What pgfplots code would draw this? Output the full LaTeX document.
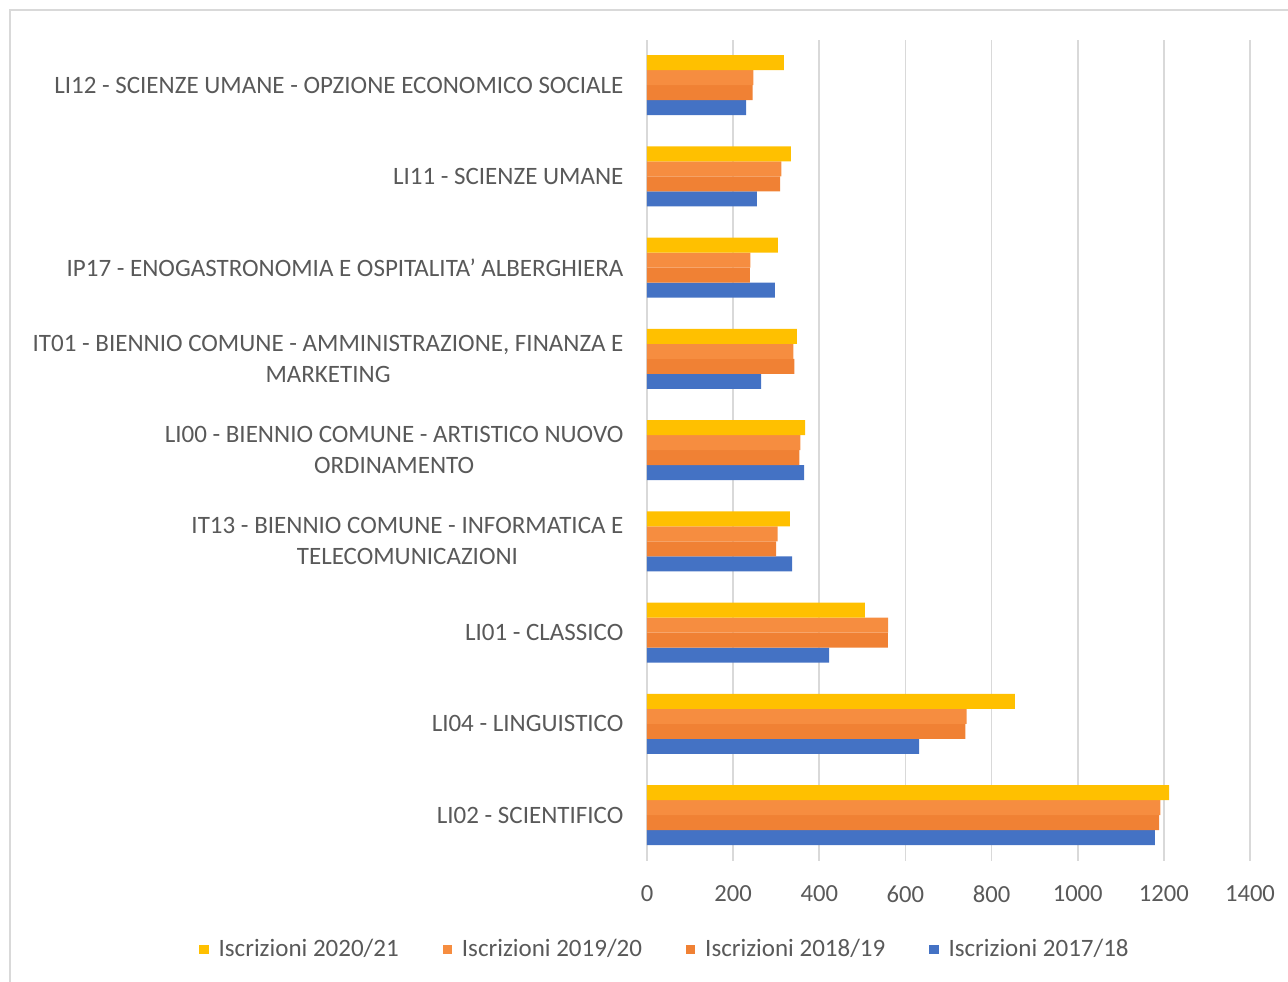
\documentclass[border=0pt]{standalone}
\usepackage{pgfplots}
\pgfplotsset{compat=1.18}
\usepackage{fontspec}
\setmainfont{Carlito}
\definecolor{cY}{HTML}{FFC000}
\definecolor{cO1}{HTML}{F68D40}
\definecolor{cO2}{HTML}{F08134}
\definecolor{cB}{HTML}{4472C4}
\definecolor{txt}{HTML}{595959}
\definecolor{grd}{HTML}{D9D9D9}
\begin{document}
\begin{tikzpicture}
\useasboundingbox (-323.5pt,-60.2pt) rectangle (320.5pt,430.3pt);
\draw[grd, line width=1.2pt] (-318.5pt,-80pt) -- (-318.5pt,425.3pt) -- (340pt,425.3pt);
\begin{axis}[
  at={(0pt,0pt)}, anchor=south west,
  scale only axis,
  width=301.5pt, height=410.5pt,
  xmin=0, xmax=1400, ymin=-0.5, ymax=8.5,
  xbar=0pt, bar width=7.5pt,
  xtick={0,200,...,1400},
  ytick={0,...,8},
  yticklabels={
    {LI02 - SCIENTIFICO},
    {LI04 - LINGUISTICO},
    {LI01 - CLASSICO},
    {IT13 - BIENNIO COMUNE - INFORMATICA E\\TELECOMUNICAZIONI},
    {LI00 - BIENNIO COMUNE - ARTISTICO NUOVO\\ORDINAMENTO},
    {IT01 - BIENNIO COMUNE - AMMINISTRAZIONE, FINANZA E\\MARKETING},
    {IP17 - ENOGASTRONOMIA E OSPITALITA' ALBERGHIERA},
    {LI11 - SCIENZE UMANE},
    {LI12 - SCIENZE UMANE - OPZIONE ECONOMICO SOCIALE}},
  yticklabel style={align=center, font=\fontsize{12.5}{15.5}\selectfont, text=txt, xshift=-4pt},
  xticklabel style={font=\fontsize{12.3}{14}\selectfont, text=txt, yshift=-9pt},
  /pgf/number format/assume math mode=true,
  /pgf/number format/1000 sep={},
  axis line style={draw=none},
  major tick style={draw=none},
  xmajorgrids, grid style={draw=grd, line width=0.8pt},
  reverse legend,
  legend columns=4,
  legend style={draw=none, fill=none, at={(0.0316,-0.108)}, anchor=center,
    font=\fontsize{12.5}{14}\selectfont, text=txt,
    /tikz/every odd column/.style={column sep=3pt},
    /tikz/every even column/.style={column sep=20pt}},
  legend image code/.code={\fill[#1] (0pt,-2.3pt) rectangle (4.6pt,2.3pt);},
]
\addplot[draw=none, fill=cB] coordinates {(1179,0) (632,1) (423,2) (337,3) (365,4) (265,5) (297,6) (255,7) (230,8)};
\addplot[draw=none, fill=cO2] coordinates {(1189,0) (739,1) (559,2) (300,3) (354,4) (342,5) (239,6) (309,7) (245,8)};
\addplot[draw=none, fill=cO1] coordinates {(1192,0) (742,1) (560,2) (303,3) (356,4) (340,5) (240,6) (312,7) (247,8)};
\addplot[draw=none, fill=cY] coordinates {(1212,0) (854,1) (506,2) (332,3) (367,4) (348,5) (304,6) (334,7) (318,8)};
\legend{Iscrizioni 2017/18, Iscrizioni 2018/19, Iscrizioni 2019/20, Iscrizioni 2020/21}
\end{axis}
\end{tikzpicture}
\end{document}
